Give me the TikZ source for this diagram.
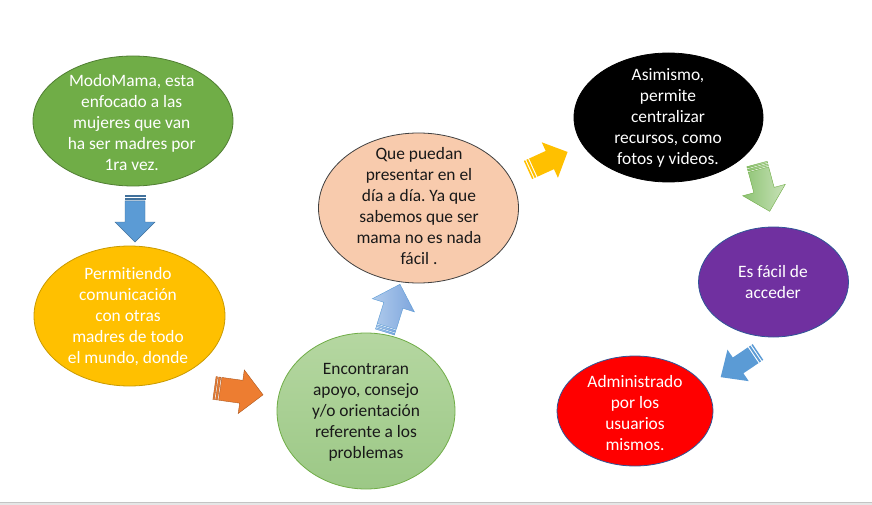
\documentclass[tikz,border=0pt]{standalone}
\usepackage{fontspec}
\setmainfont{Carlito}[Ligatures=NoCommon]
\usetikzlibrary{shapes.geometric}
\frenchspacing
\definecolor{cgreen}{HTML}{70AD47}
\definecolor{cgreend}{HTML}{507E32}
\definecolor{cyellow}{HTML}{FFC000}
\definecolor{cyellowd}{HTML}{C99A00}
\definecolor{clgreent}{HTML}{B5D7A1}
\definecolor{clgreenb}{HTML}{9CC886}
\definecolor{cpeach}{HTML}{F8CBAD}
\definecolor{cpurple}{HTML}{7030A0}
\definecolor{cbluebd}{HTML}{2F5597}
\definecolor{cred}{HTML}{FF0000}
\definecolor{cblue}{HTML}{5B9BD5}
\definecolor{cblued}{HTML}{41719C}
\definecolor{corange}{HTML}{ED7D31}
\definecolor{coranged}{HTML}{AE5A21}
\definecolor{clblue1}{HTML}{B0CBEC}
\definecolor{clblue2}{HTML}{7EA6DD}
\definecolor{cgarr1}{HTML}{8DC373}
\definecolor{cgarr2}{HTML}{C8E2B8}
\definecolor{cbar}{HTML}{E6E6E6}
\definecolor{cbarline}{HTML}{C4C4C4}
\newcommand{\stripearrow}[8]{%
 \begin{scope}[shift={(#1,#2)},rotate=#3]
  \path[#8] (5.8,-#5) -- ({#4-#7},-#5) -- ({#4-#7},-#6) -- (#4,0) -- ({#4-#7},#6) -- ({#4-#7},#5) -- (5.8,#5) -- cycle;
  \path[#8] (0,-#5) rectangle (1.5,#5);
  \path[#8] (2.7,-#5) rectangle (4.6,#5);
 \end{scope}}
\tikzset{
 ell/.style={ellipse, inner sep=0pt, line width=0.8pt},
 txt/.style={align=center, inner sep=0pt, font=\fontsize{17.4}{21}\selectfont},
}
\begin{document}
\begin{tikzpicture}[x=1pt,y=-1pt]
\fill[white] (0,0) rectangle (872,505);
\useasboundingbox (0,0) rectangle (872,505);
\fill[cbar] (0,502) rectangle (872,505);
\draw[cbarline, line width=1pt] (0,502) -- (872,502);

% ellipses
\node[ell, minimum width=200pt, minimum height=130pt, fill=cgreen, draw=cgreend] (e1) at (133,121) {};
\node[ell, minimum width=191pt, minimum height=140pt, fill=cyellow, draw=cyellowd] (e2) at (129.5,316) {};
\node[ell, minimum width=178pt, minimum height=156pt, top color=clgreent, bottom color=clgreenb, draw=cgreen] (e3) at (366,411) {};
\node[ell, minimum width=200pt, minimum height=150pt, fill=cpeach, draw=black!75] (e4) at (418.5,208) {};
\node[ell, minimum width=189pt, minimum height=129pt, fill=black, draw=black] (e5) at (668.5,117.5) {};
\node[ell, minimum width=150pt, minimum height=110pt, fill=cpurple, draw=cbluebd] (e6) at (773.5,282) {};
\node[ell, minimum width=156pt, minimum height=110pt, fill=cred, draw=cbluebd] (e7) at (635,411) {};

% texts
\node[txt, text=white] (t1) at (131.7,123) {ModoMama, esta\\enfocado a las\\mujeres que van\\ha ser madres por\\1ra vez.};
\node[txt, text=white] (t2) at (128,317) {Permitiendo\\comunicación\\con otras\\madres de todo\\el mundo, donde};
\node[txt, text=black!90] (t3) at (366,412) {Encontraran\\apoyo, consejo\\y/o orientación\\referente a los\\problemas};
\node[txt, text=black!90] (t4) at (419,206) {Que puedan\\presentar en el\\día a día. Ya que\\sabemos que ser\\mama no es nada\\fácil .};
\node[txt, text=white] (t5) at (668,118) {Asimismo,\\permite\\centralizar\\recursos, como\\fotos y videos.};
\node[txt, text=white] (t6) at (773,282) {Es fácil de\\acceder};
\node[txt, text=white] (t7) at (635,413) {Administrado\\por los\\usuarios\\mismos.};

% block arrows
\stripearrow{135}{195}{-90}{47}{10}{20}{20}{fill=cblue, draw=cblued, line width=0.4pt}
\stripearrow{214.5}{388}{-8}{49}{11.5}{22}{22}{fill=corange, draw=coranged, line width=0.4pt}
\stripearrow{385}{332}{72.6}{50}{10}{22}{22}{left color=clblue1, right color=clblue2, draw=cblue, line width=0.4pt}
\stripearrow{528}{170}{24.5}{43.5}{10}{19.5}{19.5}{fill=cyellow}
\stripearrow{757}{164}{-75}{49}{10.5}{22}{22}{left color=cgarr1, right color=cgarr2, draw=cgreen, line width=0.4pt}
\stripearrow{758}{352}{-146}{45}{9.5}{19}{21}{fill=cblue}
\end{tikzpicture}
\end{document}
